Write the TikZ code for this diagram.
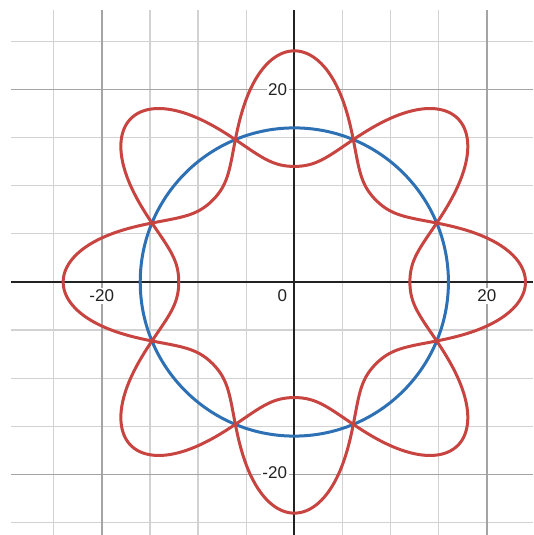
\documentclass[tikz,border=0pt]{standalone}
\usepackage{fontspec}
\setmainfont{Liberation Sans}
\definecolor{dred}{HTML}{C74440}
\definecolor{dblue}{HTML}{2D70B3}
\definecolor{gminor}{HTML}{D2D2D2}
\definecolor{gmajor}{HTML}{A4A4A4}
\definecolor{axiscol}{HTML}{222222}
\tikzset{
  minorgrid/.style={draw=gminor, line width=0.65pt},
  majorgrid/.style={draw=gmajor, line width=0.8pt},
  axisline/.style={draw=axiscol, line width=0.9pt},
  redcurve/.style={draw=dred, line width=1.5pt, line join=round},
  bluecurve/.style={draw=dblue, line width=1.5pt},
  ticklabel/.style={font=\fontsize{8.5}{10}\selectfont, text=axiscol, fill=white, inner sep=0.8pt}
}
\begin{document}
\begin{tikzpicture}[x=4.815pt,y=4.815pt]
\fill[white] (-30.56,-26.27) rectangle (24.79,29.28);
\useasboundingbox (-30.56,-26.27) rectangle (24.79,29.28);
\begin{scope}
\clip (-29.43,-26.27) rectangle (24.79,28.24);
\foreach \v in {-25,-15,-10,-5,5,10,15} {
  \draw[minorgrid] (\v,-26.27) -- (\v,28.24);
}
\foreach \v in {-25,-15,-10,-5,5,10,15,25} {
  \draw[minorgrid] (-29.43,\v) -- (24.79,\v);
}
\foreach \v in {-20,20} {
  \draw[majorgrid] (\v,-26.27) -- (\v,28.24);
  \draw[majorgrid] (-29.43,\v) -- (24.79,\v);
}
\node[ticklabel] (lxm) at (-20,-1.45) {-20};
\node[ticklabel] (lxp) at (20,-1.45) {20};
\node[ticklabel, anchor=east] (lo) at (-0.55,-1.45) {0};
\node[ticklabel, anchor=east] (lyp) at (-0.55,20) {20};
\node[ticklabel, anchor=east] (lym) at (-0.55,-19.8) {-20};
\draw[axisline] (-29.43,0) -- (24.79,0);
\draw[axisline] (0,-26.27) -- (0,28.24);
\end{scope}
\draw[bluecurve] (0,0) circle[radius=16];
\draw[redcurve] plot[domain=0:360, samples=721, smooth] (\x:{17+6*cos(4*\x)+cos(8*\x)}) -- cycle;
\draw[redcurve] plot[domain=0:360, samples=721, smooth] (\x:{17-6*cos(4*\x)+cos(8*\x)}) -- cycle;
\end{tikzpicture}
\end{document}
